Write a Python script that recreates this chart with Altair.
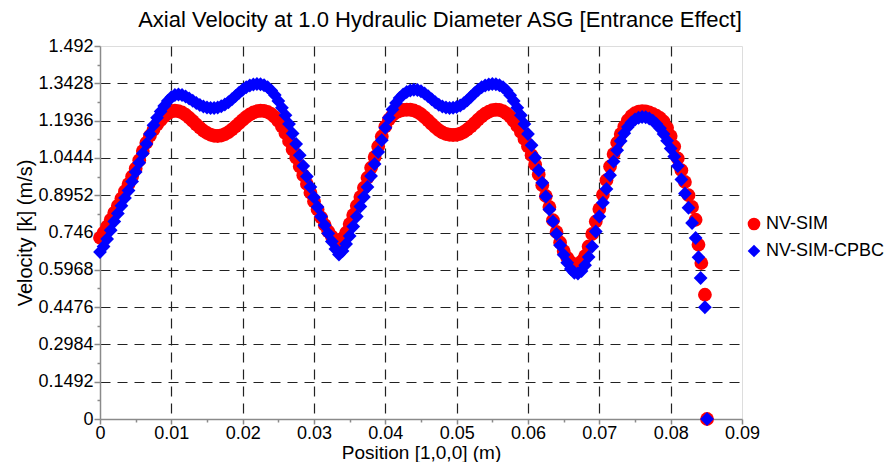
import altair as alt
import pandas as pd

FONT = "Liberation Sans"
TITLE = "Axial Velocity at 1.0 Hydraulic Diameter ASG [Entrance Effect]"
X_TITLE = "Position [1,0,0] (m)"
Y_TITLE = "Velocity [k] (m/s)"
SERIES = ["NV-SIM", "NV-SIM-CPBC"]
COLORS = ["#ff0000", "#0000ff"]
SHAPES = ["circle", "diamond"]

# sample positions (m)
POS_GRID = [
    0.0000, 0.0005, 0.0010, 0.0015, 0.0020, 0.0025, 0.0030, 0.0035, 0.0040, 0.0045,
    0.0050, 0.0055, 0.0060, 0.0065, 0.0070, 0.0075, 0.0080, 0.0085, 0.0090, 0.0095,
    0.0100, 0.0105, 0.0110, 0.0115, 0.0120, 0.0125, 0.0130, 0.0135, 0.0140, 0.0145,
    0.0150, 0.0155, 0.0160, 0.0165, 0.0170, 0.0175, 0.0180, 0.0185, 0.0190, 0.0195,
    0.0200, 0.0205, 0.0210, 0.0215, 0.0220, 0.0225, 0.0230, 0.0235, 0.0240, 0.0245,
    0.0250, 0.0255, 0.0260, 0.0265, 0.0270, 0.0275, 0.0280, 0.0285, 0.0290, 0.0295,
    0.0300, 0.0305, 0.0310, 0.0315, 0.0320, 0.0325, 0.0330, 0.0335, 0.0340, 0.0345,
    0.0350, 0.0355, 0.0360, 0.0365, 0.0370, 0.0375, 0.0380, 0.0385, 0.0390, 0.0395,
    0.0400, 0.0405, 0.0410, 0.0415, 0.0420, 0.0425, 0.0430, 0.0435, 0.0440, 0.0445,
    0.0450, 0.0455, 0.0460, 0.0465, 0.0470, 0.0475, 0.0480, 0.0485, 0.0490, 0.0495,
    0.0500, 0.0505, 0.0510, 0.0515, 0.0520, 0.0525, 0.0530, 0.0535, 0.0540, 0.0545,
    0.0550, 0.0555, 0.0560, 0.0565, 0.0570, 0.0575, 0.0580, 0.0585, 0.0590, 0.0595,
    0.0600, 0.0605, 0.0610, 0.0615, 0.0620, 0.0625, 0.0630, 0.0635, 0.0640, 0.0645,
    0.0650, 0.0655, 0.0660, 0.0665, 0.0670, 0.0675, 0.0680, 0.0685, 0.0690, 0.0695,
    0.0700, 0.0705, 0.0710, 0.0715, 0.0720, 0.0725, 0.0730, 0.0735, 0.0740, 0.0745,
    0.0750, 0.0755, 0.0760, 0.0765, 0.0770, 0.0775, 0.0780, 0.0785, 0.0790, 0.0795,
    0.0800, 0.0805, 0.0810, 0.0815, 0.0820, 0.0825, 0.0830, 0.0835,
]
POS_TAIL_RED = [0.0839, 0.0843, 0.0848, 0.0851]
POS_TAIL_BLUE = [0.0839, 0.0842, 0.0848, 0.0851]

VEL_RED = [
    0.725, 0.745, 0.770, 0.797, 0.825, 0.853, 0.882, 0.911, 0.940, 0.970,
    1.002, 1.035, 1.072, 1.105, 1.133, 1.157, 1.178, 1.195, 1.210, 1.222,
    1.230, 1.233, 1.231, 1.226, 1.217, 1.205, 1.192, 1.178, 1.165, 1.153,
    1.144, 1.137, 1.133, 1.132, 1.134, 1.139, 1.147, 1.158, 1.170, 1.183,
    1.196, 1.208, 1.218, 1.226, 1.231, 1.233, 1.232, 1.228, 1.220, 1.208,
    1.192, 1.170, 1.143, 1.112, 1.078, 1.045, 1.010, 0.975, 0.940, 0.905,
    0.870, 0.838, 0.806, 0.776, 0.750, 0.730, 0.714, 0.712, 0.722, 0.745,
    0.780, 0.816, 0.853, 0.888, 0.925, 0.965, 1.005, 1.048, 1.090, 1.130,
    1.170, 1.198, 1.215, 1.226, 1.232, 1.236, 1.237, 1.237, 1.234, 1.228,
    1.219, 1.207, 1.194, 1.180, 1.167, 1.155, 1.146, 1.140, 1.137, 1.136,
    1.137, 1.141, 1.148, 1.158, 1.170, 1.183, 1.197, 1.210, 1.221, 1.229,
    1.235, 1.237, 1.236, 1.231, 1.222, 1.209, 1.192, 1.172, 1.148, 1.120,
    1.090, 1.055, 1.018, 0.978, 0.935, 0.892, 0.848, 0.795, 0.748, 0.706,
    0.672, 0.645, 0.627, 0.616, 0.618, 0.630, 0.652, 0.690, 0.740, 0.790,
    0.840, 0.897, 0.955, 1.010, 1.060, 1.105, 1.140, 1.170, 1.195, 1.212,
    1.223, 1.229, 1.231, 1.230, 1.226, 1.220, 1.213, 1.204, 1.190, 1.165,
    1.132, 1.090, 1.042, 0.995, 0.948, 0.895, 0.848, 0.797,
    0.697, 0.624, 0.497, 0.000,
]

VEL_BLUE = [
    0.668, 0.690, 0.720, 0.755, 0.790, 0.822, 0.853, 0.884, 0.914, 0.950,
    0.988, 1.025, 1.062, 1.100, 1.140, 1.175, 1.205, 1.230, 1.252, 1.272,
    1.287, 1.296, 1.298, 1.296, 1.290, 1.282, 1.273, 1.264, 1.256, 1.250,
    1.246, 1.244, 1.244, 1.246, 1.251, 1.258, 1.267, 1.279, 1.292, 1.305,
    1.317, 1.327, 1.334, 1.338, 1.340, 1.339, 1.335, 1.327, 1.314, 1.296,
    1.272, 1.245, 1.215, 1.180, 1.142, 1.100, 1.055, 1.012, 0.970, 0.928,
    0.887, 0.848, 0.810, 0.775, 0.742, 0.710, 0.680, 0.658, 0.672, 0.700,
    0.732, 0.770, 0.810, 0.850, 0.888, 0.928, 0.972, 1.020, 1.068, 1.115,
    1.165, 1.205, 1.238, 1.264, 1.284, 1.298, 1.308, 1.314, 1.317, 1.316,
    1.311, 1.302, 1.291, 1.279, 1.267, 1.257, 1.250, 1.246, 1.244, 1.245,
    1.248, 1.254, 1.263, 1.275, 1.289, 1.303, 1.316, 1.327, 1.334, 1.338,
    1.340, 1.339, 1.335, 1.327, 1.314, 1.295, 1.272, 1.245, 1.215, 1.180,
    1.140, 1.095, 1.045, 0.995, 0.945, 0.890, 0.838, 0.790, 0.740, 0.695,
    0.657, 0.625, 0.600, 0.585, 0.582, 0.592, 0.615, 0.648, 0.690, 0.750,
    0.810, 0.865, 0.920, 0.975, 1.030, 1.075, 1.112, 1.143, 1.168, 1.186,
    1.198, 1.205, 1.208, 1.207, 1.202, 1.193, 1.180, 1.163, 1.140, 1.113,
    1.082, 1.050, 1.012, 0.958, 0.902, 0.845, 0.784, 0.724,
    0.647, 0.564, 0.447, 0.000,
]

X_TICKS = [0, 0.005, 0.01, 0.015, 0.02, 0.025, 0.03, 0.035, 0.04, 0.045,
           0.05, 0.055, 0.06, 0.065, 0.07, 0.075, 0.08, 0.085, 0.09]
Y_TICKS = [0, 0.0746, 0.1492, 0.2238, 0.2984, 0.373, 0.4476, 0.5222, 0.5968,
           0.6714, 0.746, 0.8206, 0.8952, 0.9698, 1.0444, 1.119, 1.1936,
           1.2682, 1.3428, 1.4174, 1.492]

pos_red = POS_GRID + POS_TAIL_RED
pos_blue = POS_GRID + POS_TAIL_BLUE
df = pd.concat([
    pd.DataFrame({"pos": pos_red, "vel": VEL_RED, "series": SERIES[0]}),
    pd.DataFrame({"pos": pos_blue, "vel": VEL_BLUE, "series": SERIES[1]}),
], ignore_index=True)

GRAY = "#8a8a8a"
x_major = "round(datum.value / 0.005) % 2 == 0"
y_major = "round(datum.value / 0.0746) % 2 == 0"

x_axis = alt.Axis(
    values=X_TICKS, title=X_TITLE,
    labelExpr=f"{x_major} ? ('' + datum.value) : ''",
    labelOverlap=False, labelFlush=False, labelFontSize=18, labelFont=FONT,
    labelColor="black", labelPadding=0,
    titleFontSize=19, titleFont=FONT, titleFontWeight="normal", titleColor="black",
    titlePadding=1,
    tickSize={"condition": {"test": x_major, "value": 5}, "value": 3},
    tickColor=GRAY, tickWidth=1.5,
    domainColor=GRAY, domainWidth=1.5,
    grid=True, gridColor="#222222", gridDash=[10, 7], gridWidth=1.2,
    gridOpacity={"condition": {"test": f"{x_major} && datum.value > 0.001 && datum.value < 0.089", "value": 1}, "value": 0},
)
y_axis = alt.Axis(
    values=Y_TICKS, title=Y_TITLE,
    labelExpr=f"{y_major} ? ('' + datum.value) : ''",
    labelOverlap=False, labelFlush=False, labelFontSize=18, labelFont=FONT,
    labelColor="black", labelPadding=1,
    titleFontSize=20, titleFont=FONT, titleFontWeight="normal", titleColor="black",
    titlePadding=2,
    tickSize={"condition": {"test": y_major, "value": 6}, "value": 3},
    tickColor=GRAY, tickWidth=1.5,
    domainColor=GRAY, domainWidth=1.5,
    grid=True, gridColor="#222222", gridDash=[10, 7], gridWidth=1.2,
    gridOpacity={"condition": {"test": f"{y_major} && datum.value > 0.01 && datum.value < 1.48", "value": 1}, "value": 0},
)

LEG = alt.Legend(
    title=None, orient="none", legendX=645, legendY=169,
    labelFontSize=18, labelFont=FONT, labelColor="black",
    symbolSize=160, symbolStrokeWidth=0, rowPadding=9, labelOffset=3, padding=0,
)

chart = alt.Chart(df).mark_point(filled=True, size=190, opacity=1, strokeWidth=0).encode(
    x=alt.X("pos:Q", scale=alt.Scale(domain=[0, 0.09], nice=False, zero=False), axis=x_axis),
    y=alt.Y("vel:Q", scale=alt.Scale(domain=[0, 1.492], nice=False), axis=y_axis),
    color=alt.Color("series:N", scale=alt.Scale(domain=SERIES, range=COLORS), legend=LEG),
    shape=alt.Shape("series:N", scale=alt.Scale(domain=SERIES, range=SHAPES), legend=LEG),
).properties(
    width=642, height=373,
    autosize=alt.AutoSizeParams(type="none"),
    padding={"left": 92, "top": 38, "right": 144, "bottom": 43},
    title=alt.TitleParams(text=TITLE, fontSize=22, font=FONT, fontWeight="normal",
                          color="black", anchor="middle", dx=19, offset=5),
).configure_view(stroke=GRAY, strokeWidth=1.5).configure(background="white")

chart.save("out.html", embed_options={"renderer": "svg", "actions": False})
